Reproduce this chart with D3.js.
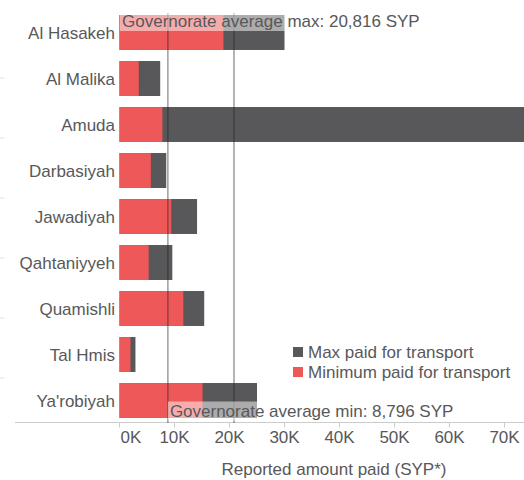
<!DOCTYPE html>
<html>
<head>
<meta charset="utf-8">
<script src="https://cdn.jsdelivr.net/npm/d3@7"></script>
<style>
  body { margin: 0; background: #fff; }
  #viz { width: 524px; height: 480px; overflow: hidden; }
  text { font-family: "Liberation Sans", Arial, sans-serif; fill: #58585A; }
</style>
</head>
<body>
<div id="viz"></div>
<script>
//Colores fijos
const COLOR_MIN = '#EE5859',
    COLOR_MAX = '#58585A',
    COLOR_TEXT = '#58585A',
    COLOR_AXIS = '#CCCCCC';

//Datos
const districts = ['Al Hasakeh', 'Al Malika', 'Amuda', 'Darbasiyah', 'Jawadiyah', 'Qahtaniyyeh', 'Quamishli', 'Tal Hmis', "Ya'robiyah"];
const maxPaid = [30000, 7400, 80000, 8500, 14100, 9600, 15400, 2900, 25000];
const minPaid = [18900, 3500, 7800, 5700, 9400, 5300, 11600, 2000, 15100];
const avgMax = 20816, avgMin = 8796;
const xTicks = [0, 10000, 20000, 30000, 40000, 50000, 60000, 70000];
const legendItems = ['Max paid for transport', 'Minimum paid for transport'];

let data = districts.map(function(d, i) { return {name: d, max: maxPaid[i], min: minPaid[i]}; });

let margin = {top: 0, right: 0, bottom: 0, left: 0},
    width = 524, height = 480;

let svg = d3.select('#viz')
    .append('svg')
        .attr('width', width)
        .attr('height', height)
    .append('g')
        .attr('transform', 'translate(' + margin.left + ',' + margin.top + ')');

let x = d3.scaleLinear()
    .domain([0, 70000])
    .range([119.5, 504.5]);

let y = d3.scaleBand()
    .domain(districts)
    .range([9.5, 423.5])
    .paddingInner(0.24)
    .paddingOuter(0.12);

//Marcas claras a la izquierda
let yLeft = d3.scaleLinear().domain([0, 7]).range([18, 438]);
svg.append('g')
    .selectAll('line')
    .data([1, 2, 3, 4, 5, 6])
    .enter()
    .append('line')
    .attr('x1', 0).attr('x2', 4)
    .attr('y1', function(d) { return yLeft(d); })
    .attr('y2', function(d) { return yLeft(d); })
    .attr('stroke', '#E0E0E0');

//Barras max
svg.append('g')
    .selectAll('rect')
    .data(data)
    .enter()
    .append('rect')
    .attr('x', x(0))
    .attr('y', function(d) { return y(d.name); })
    .attr('height', y.bandwidth())
    .attr('width', function(d) { return x(d.max) - x(0); })
    .attr('fill', COLOR_MAX);

//Barras min
svg.append('g')
    .selectAll('rect')
    .data(data)
    .enter()
    .append('rect')
    .attr('x', x(0))
    .attr('y', function(d) { return y(d.name); })
    .attr('height', y.bandwidth())
    .attr('width', function(d) { return x(d.min) - x(0); })
    .attr('fill', COLOR_MIN);

//Eje Y (etiquetas)
svg.append('g')
    .selectAll('text')
    .data(districts)
    .enter()
    .append('text')
    .attr('x', 115)
    .attr('y', function(d) { return y(d) + y.bandwidth() / 2; })
    .attr('dy', '0.36em')
    .attr('text-anchor', 'end')
    .style('font-size', '17px')
    .text(function(d) { return d; });

//Eje X
let xAxis = svg.append('g')
    .attr('transform', 'translate(0,422.5)');
xAxis.append('line')
    .attr('x1', 15).attr('x2', width)
    .attr('stroke', COLOR_AXIS);
xAxis.selectAll('.tick')
    .data(xTicks)
    .enter()
    .append('line')
    .attr('x1', function(d) { return x(d); })
    .attr('x2', function(d) { return x(d); })
    .attr('y1', 0).attr('y2', 5)
    .attr('stroke', COLOR_AXIS);
xAxis.selectAll('text')
    .data(xTicks)
    .enter()
    .append('text')
    .attr('x', function(d, i) { return i == 0 ? x(d) + 1 : x(d); })
    .attr('y', 20)
    .attr('text-anchor', function(d, i) { return i == 0 ? 'start' : 'middle'; })
    .style('font-size', '17px')
    .text(function(d) { return d3.format('d')(d / 1000) + 'K'; });

svg.append('text')
    .attr('x', 334)
    .attr('y', 475)
    .attr('text-anchor', 'middle')
    .style('font-size', '17px')
    .text('Reported amount paid (SYP*)');

//Líneas de promedio
svg.append('g')
    .selectAll('line')
    .data([avgMin, avgMax])
    .enter()
    .append('line')
    .attr('x1', function(d) { return x(d); })
    .attr('x2', function(d) { return x(d); })
    .attr('y1', 13).attr('y2', 423)
    .attr('stroke', '#222')
    .attr('stroke-opacity', 0.45)
    .attr('stroke-width', 1.5);

//Etiquetas de promedio con fondo
function avgLabel(tx, ty, label) {
    let g = svg.append('g');
    let t = g.append('text')
        .attr('x', tx)
        .attr('y', ty)
        .style('font-size', '17px')
        .text(label);
    let bb = t.node().getBBox();
    g.insert('rect', 'text')
        .attr('x', bb.x - 2)
        .attr('y', bb.y)
        .attr('width', bb.width + 4)
        .attr('height', bb.height)
        .attr('fill', '#fff')
        .attr('fill-opacity', 0.5);
}
avgLabel(122, 27, 'Governorate average max: ' + d3.format(',')(avgMax) + ' SYP');
avgLabel(x(avgMin) + 2, 416.5, 'Governorate average min: ' + d3.format(',')(avgMin) + ' SYP');

//Leyenda
let legend = svg.append('g')
    .attr('transform', 'translate(293,347)');
legend.selectAll('rect')
    .data(legendItems)
    .enter()
    .append('rect')
    .attr('x', 0)
    .attr('y', function(d, i) { return i * 20; })
    .attr('width', 10).attr('height', 10)
    .attr('fill', function(d, i) { return i == 0 ? COLOR_MAX : COLOR_MIN; });
legend.selectAll('text')
    .data(legendItems)
    .enter()
    .append('text')
    .attr('x', 15)
    .attr('y', function(d, i) { return i * 20 + 10.5; })
    .style('font-size', '17px')
    .text(function(d) { return d; });
</script>
</body>
</html>
